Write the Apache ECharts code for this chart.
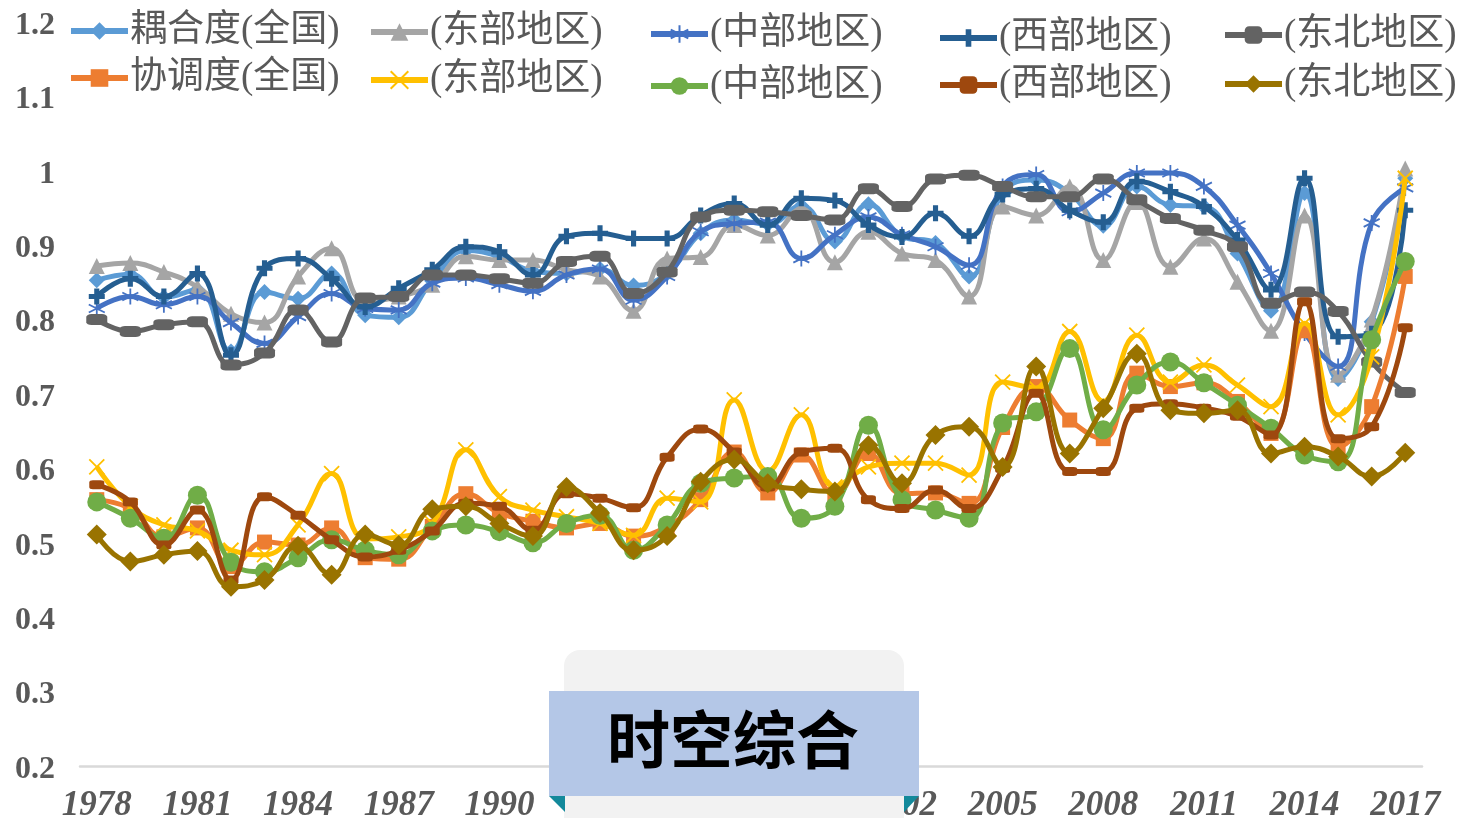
<!DOCTYPE html>
<html>
<head>
<meta charset="utf-8">
<script src="https://cdn.jsdelivr.net/npm/echarts@6/dist/echarts.min.js"></script>
<style>
  html, body { margin: 0; padding: 0; background: #fff; }
  #chart { width: 1461px; height: 818px; }
</style>
</head>
<body>
<div id="chart"></div>
<script>
// Years on the category axis
const years = ['1978','1979','1980','1981','1982','1983','1984','1985','1986','1987',
  '1988','1989','1990','1991','1992','1993','1994','1995','1996','1997',
  '1998','1999','2000','2001','2002','2003','2004','2005','2006','2007',
  '2008','2009','2010','2011','2012','2013','2014','2015','2016','2017'];

// Value axis tick labels
const yTicks = [0.2, 0.3, 0.4, 0.5, 0.6, 0.7, 0.8, 0.9, 1, 1.1, 1.2];

// 耦合度 (coupling degree)
const couplingNational = [0.853,0.861,0.830,0.840,0.757,0.837,0.828,0.862,0.806,0.803,
  0.852,0.893,0.885,0.865,0.862,0.868,0.846,0.862,0.916,0.934,
  0.928,0.953,0.905,0.955,0.912,0.903,0.858,0.970,0.988,0.970,
  0.926,0.979,0.954,0.952,0.889,0.812,0.970,0.720,0.797,0.990];
const couplingEast = [0.872,0.876,0.864,0.844,0.808,0.796,0.858,0.896,0.824,0.831,
  0.847,0.885,0.880,0.880,0.867,0.858,0.812,0.882,0.884,0.927,
  0.913,0.949,0.877,0.918,0.889,0.880,0.831,0.952,0.940,0.979,
  0.880,0.958,0.871,0.909,0.851,0.785,0.940,0.726,0.800,1.003];
const couplingCentral = [0.815,0.831,0.820,0.831,0.796,0.768,0.804,0.835,0.815,0.813,
  0.849,0.856,0.847,0.838,0.860,0.868,0.826,0.858,0.918,0.929,
  0.931,0.882,0.914,0.938,0.914,0.898,0.873,0.979,0.995,0.945,
  0.970,0.997,0.997,0.979,0.927,0.862,0.782,0.737,0.930,0.977];
const couplingWest = [0.831,0.855,0.831,0.862,0.752,0.869,0.882,0.855,0.817,0.842,
  0.867,0.898,0.891,0.860,0.912,0.916,0.909,0.909,0.940,0.956,
  0.927,0.963,0.960,0.927,0.911,0.943,0.912,0.968,0.976,0.947,
  0.931,0.986,0.972,0.952,0.907,0.840,0.990,0.777,0.781,0.947];
const couplingNortheast = [0.800,0.784,0.793,0.797,0.739,0.755,0.813,0.770,0.829,0.831,
  0.860,0.860,0.855,0.849,0.878,0.885,0.835,0.864,0.938,0.947,
  0.945,0.940,0.934,0.976,0.952,0.989,0.994,0.979,0.965,0.965,
  0.989,0.961,0.936,0.920,0.898,0.822,0.837,0.811,0.743,0.702];

// 协调度 (coordination degree)
const coordNational = [0.558,0.546,0.508,0.520,0.468,0.501,0.497,0.520,0.480,0.478,
  0.522,0.566,0.540,0.529,0.520,0.526,0.509,0.522,0.558,0.622,
  0.567,0.618,0.565,0.620,0.566,0.567,0.553,0.655,0.710,0.665,
  0.640,0.728,0.710,0.715,0.690,0.647,0.785,0.629,0.683,0.858];
const coordEast = [0.602,0.549,0.524,0.516,0.490,0.484,0.524,0.593,0.505,0.508,
  0.526,0.625,0.562,0.544,0.535,0.526,0.510,0.560,0.555,0.692,
  0.596,0.672,0.575,0.602,0.607,0.607,0.591,0.716,0.708,0.784,
  0.690,0.779,0.716,0.739,0.712,0.683,0.795,0.672,0.750,0.990];
const coordCentral = [0.555,0.533,0.506,0.564,0.474,0.461,0.480,0.504,0.490,0.484,
  0.516,0.524,0.515,0.500,0.526,0.537,0.490,0.524,0.580,0.587,
  0.589,0.533,0.549,0.658,0.558,0.544,0.533,0.661,0.676,0.761,
  0.652,0.712,0.743,0.715,0.685,0.654,0.618,0.609,0.773,0.878];
const coordWest = [0.578,0.555,0.497,0.544,0.450,0.562,0.537,0.504,0.481,0.490,
  0.516,0.553,0.549,0.517,0.566,0.560,0.547,0.615,0.653,0.622,
  0.575,0.622,0.627,0.558,0.546,0.571,0.546,0.600,0.701,0.596,
  0.596,0.681,0.687,0.681,0.670,0.645,0.824,0.640,0.656,0.789];
const coordNortheast = [0.511,0.475,0.484,0.489,0.441,0.450,0.496,0.457,0.511,0.497,
  0.545,0.549,0.526,0.509,0.575,0.540,0.490,0.509,0.582,0.612,
  0.580,0.572,0.569,0.631,0.580,0.645,0.656,0.602,0.737,0.620,
  0.681,0.754,0.678,0.674,0.678,0.620,0.629,0.616,0.589,0.621];

const seriesNames = ['耦合度(全国)','耦合度(东部地区)','耦合度(中部地区)','耦合度(西部地区)','耦合度(东北地区)',
  '协调度(全国)','协调度(东部地区)','协调度(中部地区)','协调度(西部地区)','协调度(东北地区)'];

// Marker shapes
const PLUS = 'path://M3.4,0H6.6V3.4H10V6.6H6.6V10H3.4V6.6H0V3.4H3.4Z';
const STAR = 'path://M5,0V10M0.7,2.5L9.3,7.5M0.7,7.5L9.3,2.5';
const CROSS = 'path://M0,0L10,10M0,10L10,0';

const styles = [
  { data: couplingNational, color: '#5B9BD5', symbol: 'diamond', size: 16 },
  { data: couplingEast, color: '#A5A5A5', symbol: 'triangle', size: 16 },
  { data: couplingCentral, color: '#4472C4', symbol: STAR, size: 16, stroke: 1.8 },
  { data: couplingWest, color: '#255E91', symbol: PLUS, size: 16 },
  { data: couplingNortheast, color: '#636363', symbol: 'roundRect', size: [21, 11] },
  { data: coordNational, color: '#ED7D31', symbol: 'rect', size: 15 },
  { data: coordEast, color: '#FFC000', symbol: CROSS, size: 15, stroke: 1.8 },
  { data: coordCentral, color: '#70AD47', symbol: 'circle', size: 19 },
  { data: coordWest, color: '#9E480E', symbol: 'roundRect', size: [15, 9] },
  { data: coordNortheast, color: '#997300', symbol: 'diamond', size: 20 }
];

const series = styles.map((s, i) => ({
  name: seriesNames[i],
  type: 'line',
  data: s.data,
  smooth: 0.45,
  symbol: s.symbol,
  symbolSize: s.size,
  showAllSymbol: true,
  lineStyle: { color: s.color, width: 5 },
  itemStyle: s.stroke
    ? { color: s.color, borderColor: s.color, borderWidth: s.stroke }
    : { color: s.color },
  emphasis: { disabled: true },
  z: 2 + i
}));

// Legend placement: five columns, two rows
const legendPos = [
  [68, 11], [368, 12], [648, 14], [937, 18], [1222, 15],
  [68, 58], [368, 60], [648, 66], [937, 65], [1222, 64]
];
const legends = seriesNames.map((name, i) => ({
  data: [name],
  left: legendPos[i][0],
  top: legendPos[i][1],
  padding: 0,
  itemWidth: 57,
  itemHeight: 22,
  itemGap: 0,
  selectedMode: false,
  lineStyle: { width: 6 },
  formatter: n => (n.indexOf('(全国)') >= 0 ? n : n.slice(3)),
  textStyle: {
    fontFamily: "'Liberation Serif', 'Noto Sans CJK SC', serif",
    fontSize: 37,
    lineHeight: 40,
    color: '#595959',
    padding: [0, 0, 0, -3]
  }
}));

const chart = echarts.init(document.getElementById('chart'), null, { renderer: 'canvas' });
chart.setOption({
  animation: false,
  backgroundColor: '#ffffff',
  legend: legends,
  grid: {
    left: 80, right: 39, top: 22, bottom: 52,
    containLabel: false,
    outerBoundsMode: 'none'
  },
  xAxis: {
    type: 'category',
    data: years,
    boundaryGap: true,
    axisLine: { show: true, lineStyle: { color: '#D9D9D9', width: 2.5 } },
    axisTick: { show: false },
    axisLabel: {
      interval: 2,
      margin: 22,
      fontFamily: "'Liberation Serif', serif",
      fontStyle: 'italic',
      fontWeight: 'bold',
      fontSize: 35,
      color: '#595959'
    },
    splitLine: { show: false }
  },
  yAxis: {
    type: 'value',
    min: yTicks[0],
    max: yTicks[yTicks.length - 1],
    interval: 0.1,
    axisLine: { show: false },
    axisTick: { show: false },
    splitLine: { show: false },
    axisLabel: {
      margin: 25,
      fontFamily: "'Liberation Serif', serif",
      fontWeight: 'bold',
      fontSize: 32,
      color: '#595959',
      verticalAlign: 'top',
      lineHeight: 7,
      formatter: v => String(Number(v.toFixed(1)))
    }
  },
  series: series,
  graphic: [
    {
      type: 'rect', z: 100,
      shape: { x: 564, y: 650, width: 340, height: 200, r: 16 },
      style: { fill: '#F2F2F2' }
    },
    {
      type: 'polygon', z: 101,
      shape: { points: [[549, 796], [565, 796], [565, 812]] },
      style: { fill: '#13899B' }
    },
    {
      type: 'polygon', z: 101,
      shape: { points: [[904, 796], [919, 796], [904, 812]] },
      style: { fill: '#13899B' }
    },
    {
      type: 'rect', z: 102,
      shape: { x: 549, y: 691, width: 370, height: 105 },
      style: { fill: '#B4C7E7' }
    },
    {
      type: 'text', z: 103,
      left: 607, top: 708,
      style: {
        text: '时空综合',
        font: "bold 63px 'Noto Sans CJK SC', sans-serif",
        fill: '#000000'
      }
    }
  ]
});
</script>
</body>
</html>
